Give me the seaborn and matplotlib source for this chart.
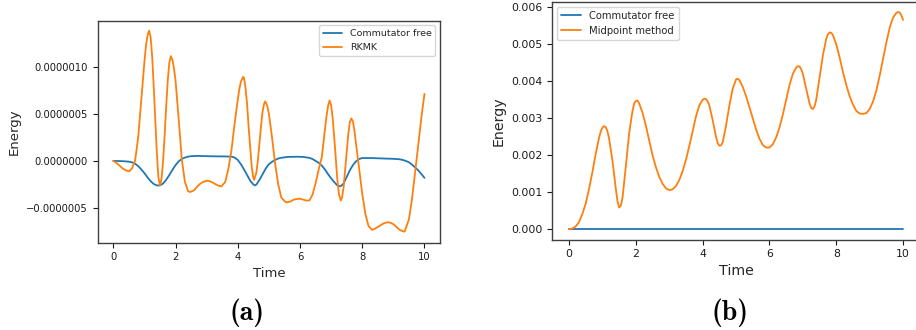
import numpy as np
import pandas as pd
import matplotlib
matplotlib.use("Agg")
import matplotlib.pyplot as plt
import seaborn as sns
from matplotlib.ticker import FuncFormatter

# ---------------- data ----------------
# Panel (a): energy error, units of 1e-6
rkmk_t = [0.0, 0.1, 0.2, 0.3, 0.4, 0.51, 0.6, 0.7, 0.8, 0.9, 0.95, 1.0, 1.05, 1.1, 1.15, 1.2,
          1.25, 1.3, 1.35, 1.4, 1.45, 1.5, 1.55, 1.6, 1.65, 1.7, 1.75, 1.8, 1.85, 1.9, 1.95,
          2.0, 2.1, 2.2, 2.3, 2.4, 2.47, 2.6, 2.7, 2.8, 2.9, 3.02, 3.1, 3.2, 3.3, 3.4, 3.48,
          3.6, 3.7, 3.8, 3.9, 4.0, 4.05, 4.1, 4.17, 4.2, 4.25, 4.3, 4.35, 4.4, 4.45, 4.5, 4.53,
          4.6, 4.65, 4.7, 4.75, 4.8, 4.85, 4.88, 4.9, 4.95, 5.0, 5.1, 5.2, 5.3, 5.4, 5.55, 5.7,
          5.8, 5.98, 6.1, 6.2, 6.3, 6.4, 6.5, 6.6, 6.7, 6.8, 6.85, 6.9, 6.95, 7.0, 7.05, 7.1,
          7.15, 7.2, 7.25, 7.31, 7.35, 7.4, 7.45, 7.5, 7.55, 7.6, 7.65, 7.7, 7.75, 7.8, 7.9,
          8.0, 8.1, 8.2, 8.31, 8.4, 8.5, 8.6, 8.7, 8.82, 8.9, 9.0, 9.1, 9.2, 9.3, 9.36, 9.5,
          9.6, 9.7, 9.8, 9.9, 10.0]
rkmk_e = [0.0, -0.02, -0.05, -0.08, -0.10, -0.11, -0.08, 0.0, 0.25, 0.65, 0.86, 1.05, 1.22,
          1.33, 1.38, 1.31, 1.10, 0.78, 0.43, 0.08, -0.18, -0.26, -0.19, 0.0, 0.27, 0.58, 0.85,
          1.04, 1.11, 1.07, 0.98, 0.85, 0.45, 0.02, -0.22, -0.32, -0.33, -0.31, -0.27, -0.24,
          -0.22, -0.21, -0.215, -0.23, -0.25, -0.265, -0.27, -0.22, -0.08, 0.12, 0.40, 0.65,
          0.76, 0.84, 0.89, 0.88, 0.77, 0.60, 0.35, 0.14, -0.07, -0.18, -0.20, -0.12, 0.02,
          0.20, 0.38, 0.53, 0.61, 0.63, 0.62, 0.58, 0.50, 0.25, -0.03, -0.25, -0.39, -0.44,
          -0.43, -0.41, -0.40, -0.41, -0.42, -0.42, -0.36, -0.24, -0.09, 0.04, 0.33, 0.47, 0.58,
          0.64, 0.59, 0.45, 0.25, 0.02, -0.20, -0.35, -0.42, -0.39, -0.28, -0.10, 0.09, 0.28,
          0.41, 0.45, 0.42, 0.32, 0.18, -0.08, -0.35, -0.56, -0.69, -0.73, -0.72, -0.70, -0.68,
          -0.66, -0.65, -0.655, -0.67, -0.70, -0.73, -0.745, -0.75, -0.62, -0.40, -0.12, 0.17,
          0.46, 0.71]

cf_a_t = [0.0, 0.3, 0.5, 0.6, 0.7, 0.8, 0.9, 1.0, 1.1, 1.2, 1.3, 1.4, 1.5, 1.6, 1.7, 1.8, 1.9,
          2.0, 2.1, 2.2, 2.3, 2.4, 2.5, 2.7, 3.0, 3.3, 3.6, 3.8, 3.9, 4.0, 4.1, 4.2, 4.3, 4.4,
          4.5, 4.55, 4.6, 4.7, 4.8, 4.9, 5.0, 5.1, 5.2, 5.3, 5.4, 5.6, 5.9, 6.1, 6.3, 6.4, 6.5,
          6.6, 6.7, 6.8, 6.9, 7.0, 7.1, 7.2, 7.3, 7.4, 7.5, 7.6, 7.7, 7.8, 7.9, 8.0, 8.3, 8.7,
          9.0, 9.2, 9.3, 9.4, 9.5, 9.6, 9.7, 9.8, 9.9, 10.0]
cf_a_e = [0.0, -0.003, -0.008, -0.015, -0.03, -0.055, -0.09, -0.13, -0.175, -0.215, -0.245,
          -0.26, -0.26, -0.24, -0.20, -0.15, -0.095, -0.045, -0.005, 0.02, 0.035, 0.045, 0.05,
          0.053, 0.05, 0.048, 0.047, 0.045, 0.035, 0.01, -0.035, -0.09, -0.15, -0.21, -0.25,
          -0.26, -0.25, -0.20, -0.14, -0.08, -0.035, -0.01, 0.01, 0.025, 0.033, 0.042, 0.044,
          0.042, 0.032, 0.02, 0.0, -0.02, -0.05, -0.09, -0.14, -0.185, -0.225, -0.26, -0.27,
          -0.24, -0.17, -0.10, -0.045, -0.005, 0.02, 0.03, 0.03, 0.025, 0.022, 0.017, 0.01, 0.0,
          -0.015, -0.04, -0.07, -0.10, -0.14, -0.18]

# Panel (b): energy error, units of 1e-3
mid_t = [0.0, 0.1, 0.2, 0.3, 0.4, 0.5, 0.6, 0.7, 0.8, 0.9, 0.95, 1.0, 1.05, 1.1, 1.15, 1.2,
         1.3, 1.4, 1.45, 1.5, 1.55, 1.6, 1.7, 1.8, 1.9, 1.95, 2.0, 2.05, 2.1, 2.2, 2.3, 2.4,
         2.5, 2.6, 2.7, 2.8, 2.9, 3.0, 3.1, 3.2, 3.3, 3.4, 3.5, 3.6, 3.7, 3.8, 3.9, 4.0, 4.05,
         4.1, 4.15, 4.2, 4.3, 4.4, 4.45, 4.5, 4.55, 4.6, 4.7, 4.8, 4.9, 5.0, 5.05, 5.1, 5.2,
         5.3, 5.4, 5.5, 5.6, 5.7, 5.8, 5.9, 6.0, 6.1, 6.2, 6.3, 6.4, 6.5, 6.6, 6.7, 6.8, 6.85,
         6.9, 6.95, 7.0, 7.1, 7.2, 7.25, 7.3, 7.35, 7.4, 7.5, 7.6, 7.7, 7.75, 7.8, 7.85, 7.9,
         8.0, 8.1, 8.2, 8.3, 8.4, 8.5, 8.6, 8.7, 8.8, 8.9, 9.0, 9.1, 9.2, 9.3, 9.4, 9.5, 9.6,
         9.7, 9.8, 9.85, 9.9, 9.95, 10.0]
mid_e = [0.0, 0.02, 0.08, 0.2, 0.42, 0.7, 1.1, 1.55, 2.05, 2.48, 2.65, 2.75, 2.79, 2.76, 2.65,
         2.45, 1.85, 1.1, 0.76, 0.59, 0.64, 0.85, 1.7, 2.6, 3.2, 3.4, 3.47, 3.48, 3.40, 3.15,
         2.8, 2.4, 2.0, 1.68, 1.42, 1.23, 1.11, 1.06, 1.08, 1.17, 1.33, 1.57, 1.88, 2.25, 2.65,
         3.05, 3.35, 3.5, 3.53, 3.52, 3.46, 3.35, 2.95, 2.5, 2.33, 2.26, 2.27, 2.35, 2.8, 3.35,
         3.8, 4.05, 4.07, 4.03, 3.85, 3.6, 3.3, 3.0, 2.7, 2.45, 2.28, 2.21, 2.21, 2.3, 2.48,
         2.75, 3.1, 3.5, 3.9, 4.2, 4.37, 4.41, 4.4, 4.33, 4.2, 3.8, 3.4, 3.28, 3.25, 3.32, 3.5,
         4.1, 4.7, 5.15, 5.27, 5.32, 5.31, 5.25, 5.0, 4.65, 4.25, 3.9, 3.6, 3.37, 3.2, 3.13,
         3.12, 3.14, 3.25, 3.45, 3.75, 4.15, 4.6, 5.05, 5.45, 5.72, 5.85, 5.87, 5.86, 5.78,
         5.66]

cf_b_t = [0.0, 2.0, 4.0, 6.0, 8.0, 10.0]
cf_b_e = [0.0, 0.0, 0.0, 0.0, 0.0, 0.0]

x_ticks = [0, 2, 4, 6, 8, 10]
ya_ticks = [-5e-7, 0.0, 5e-7, 1e-6]
yb_ticks = [0.0, 0.001, 0.002, 0.003, 0.004, 0.005, 0.006]

# ---------------- style ----------------
sns.set_theme(style="ticks")
plt.rcParams["font.family"] = ["DejaVu Sans"]
plt.rcParams["axes.edgecolor"] = "0.25"
plt.rcParams["axes.linewidth"] = 1.0
plt.rcParams["xtick.color"] = "0.1"
plt.rcParams["ytick.color"] = "0.1"
plt.rcParams["xtick.major.size"] = 3.5
plt.rcParams["ytick.major.size"] = 3.5

BLUE = "#1f77b4"
ORANGE = "#ff7f0e"

fig = plt.figure(figsize=(9.16, 3.30), dpi=100)

# ---------------- panel (a) ----------------
ax1 = fig.add_axes([0.1067, 0.2645, 0.3737, 0.6727])
df_cf_a = pd.DataFrame({"Time": cf_a_t, "Energy": np.array(cf_a_e) * 1e-6})
df_rk = pd.DataFrame({"Time": rkmk_t, "Energy": np.array(rkmk_e) * 1e-6})
sns.lineplot(data=df_cf_a, x="Time", y="Energy", ax=ax1, color=BLUE, lw=1.3,
             label="Commutator free")
sns.lineplot(data=df_rk, x="Time", y="Energy", ax=ax1, color=ORANGE, lw=1.3, label="RKMK")
ax1.set_xlim(-0.5, 10.5)
ax1.set_ylim(-0.867e-6, 1.485e-6)
ax1.set_xticks(x_ticks)
ax1.set_yticks(ya_ticks)
ax1.yaxis.set_major_formatter(FuncFormatter(lambda v, p: f"{v:.7f}".replace("-", "\u2212")))
ax1.tick_params(labelsize=7.2, width=0.8)
ax1.set_xlabel("Time", fontsize=9.5, labelpad=3)
ax1.set_ylabel("Energy", fontsize=9.5, labelpad=4)
ax1.legend(loc="upper right", fontsize=6.8, frameon=True, fancybox=True,
           edgecolor="0.8", framealpha=0.8, handlelength=2.0, borderpad=0.4)

# ---------------- panel (b) ----------------
ax2 = fig.add_axes([0.603, 0.2736, 0.4011, 0.7212])
df_cf_b = pd.DataFrame({"Time": cf_b_t, "Energy": cf_b_e})
df_mid = pd.DataFrame({"Time": mid_t, "Energy": np.array(mid_e) * 1e-3})
sns.lineplot(data=df_cf_b, x="Time", y="Energy", ax=ax2, color=BLUE, lw=1.3,
             label="Commutator free")
sns.lineplot(data=df_mid, x="Time", y="Energy", ax=ax2, color=ORANGE, lw=1.3,
             label="Midpoint method")
ax2.set_xlim(-0.5, 10.5)
ax2.set_ylim(-0.00028, 0.00615)
ax2.set_xticks(x_ticks)
ax2.set_yticks(yb_ticks)
ax2.yaxis.set_major_formatter(FuncFormatter(lambda v, p: f"{v:.3f}"))
ax2.tick_params(labelsize=7.8, width=0.8)
ax2.set_xlabel("Time", fontsize=10.2, labelpad=3)
ax2.set_ylabel("Energy", fontsize=10.2, labelpad=4)
ax2.legend(loc="upper left", fontsize=7.2, frameon=True, fancybox=True,
           edgecolor="0.8", framealpha=0.8, handlelength=2.0, borderpad=0.4)

# ---------------- captions ----------------
for label, xc in (("(a)", 247), ("(b)", 730)):
    fig.text(xc / 916, 1 - 313 / 330, label, fontsize=20, ha="center", va="center",
             family=["cmb10", "DejaVu Serif"], fontweight="bold", color="black")

fig.savefig("out.png", dpi=100, facecolor="white")
